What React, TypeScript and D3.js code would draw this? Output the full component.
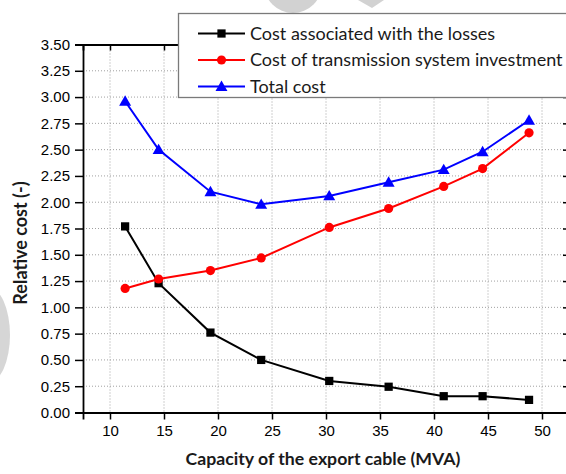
import React, { useEffect, useRef } from "react";
import * as d3 from "d3";

// capacity of the export cable (MVA)
const capacity = [11.4, 14.5, 19.3, 24.0, 30.3, 35.8, 40.9, 44.5, 48.8];
const losses = [1.77, 1.23, 0.76, 0.50, 0.30, 0.245, 0.155, 0.155, 0.12];
const investment = [1.18, 1.27, 1.35, 1.47, 1.76, 1.94, 2.15, 2.32, 2.66];
const total = [2.96, 2.50, 2.10, 1.98, 2.06, 2.19, 2.31, 2.48, 2.78];

const seriesNames = [
  "Cost associated with the losses",
  "Cost of transmission system investment",
  "Total cost",
];
const seriesColors = ["#000000", "#ff0000", "#0000ff"];
const seriesSymbols = [d3.symbolSquare, d3.symbolCircle, d3.symbolTriangle];
const symbolSizes = [68, 66, 62];

const xMajor = [10, 15, 20, 25, 30, 35, 40, 45, 50];
const yMajor = [0, 0.25, 0.5, 0.75, 1, 1.25, 1.5, 1.75, 2, 2.25, 2.5, 2.75, 3, 3.25, 3.5];

function Chart() {
  const ref = useRef(null);

  useEffect(() => {
    const width = 566;
    const height = 474;
    const left = 83;
    const right = 569;
    const top = 44.5;
    const bottom = 412.5;

    const svg = d3.select(ref.current);
    svg.selectAll("*").remove();

    const x = d3.scaleLinear().domain([7.5, 52.5]).range([left, right]);
    const y = d3.scaleLinear().domain([0, 3.5]).range([bottom, top]);

    svg.append("rect").attr("width", width).attr("height", height).attr("fill", "#fff");

    // faint watermark remains
    svg.append("circle").attr("cx", 293).attr("cy", -16).attr("r", 29).attr("fill", "#d2d2d2");
    svg.append("path").attr("d", "M358,0 L384,0 L372,8 Z").attr("fill", "#d2d2d2");
    svg.append("ellipse").attr("cx", -12).attr("cy", 335).attr("rx", 22).attr("ry", 48).attr("fill", "#d6d6d6");

    // grid
    const grid = svg.append("g").attr("stroke", "#a0a0a0").attr("stroke-width", 1).attr("stroke-dasharray", "1,2");
    grid.selectAll(".gx").data(xMajor).join("line")
      .attr("x1", d => x(d)).attr("x2", d => x(d))
      .attr("y1", top).attr("y2", bottom);
    grid.selectAll(".gy").data(yMajor.filter(v => v > 0 && v < 3.5)).join("line")
      .attr("x1", left).attr("x2", right)
      .attr("y1", d => y(d)).attr("y2", d => y(d));

    const font = "'Liberation Sans', Arial, sans-serif";

    // bottom axis (outward ticks)
    const xAxis = svg.append("g").attr("transform", `translate(0,${bottom})`)
      .call(d3.axisBottom(x).tickValues(d3.range(7.5, 52.6, 2.5)).tickSize(4).tickFormat(() => ""));
    xAxis.call(d3.axisBottom(x).tickValues(xMajor).tickSize(7).tickPadding(6).tickFormat(d3.format("d")));
    xAxis.selectAll("text").attr("font-family", font).attr("font-size", 15).attr("fill", "#000");

    // left axis (outward ticks)
    const yAxis = svg.append("g").attr("transform", `translate(${left},0)`)
      .call(d3.axisLeft(y).tickValues(d3.range(0, 3.51, 0.125)).tickSize(4).tickFormat(() => ""));
    yAxis.call(d3.axisLeft(y).tickValues(yMajor).tickSize(8).tickPadding(5).tickFormat(d3.format(".2f")));
    yAxis.selectAll("text").attr("font-family", font).attr("font-size", 15).attr("fill", "#000");

    // top and right axes (inward ticks)
    svg.append("g").attr("transform", `translate(0,${top})`)
      .call(d3.axisBottom(x).tickValues(d3.range(7.5, 52.6, 2.5)).tickSize(3).tickFormat(() => ""))
      .call(d3.axisBottom(x).tickValues(xMajor).tickSize(6).tickFormat(() => ""));
    svg.append("g").attr("transform", `translate(${right},0)`)
      .call(d3.axisLeft(y).tickValues(d3.range(0, 3.51, 0.125)).tickSize(3).tickFormat(() => ""))
      .call(d3.axisLeft(y).tickValues(yMajor).tickSize(6).tickFormat(() => ""));

    svg.selectAll(".domain").attr("stroke", "#000").attr("stroke-width", 1.8);
    svg.selectAll(".tick line").attr("stroke", "#000").attr("stroke-width", 1.5);

    // series
    const all = [losses, investment, total];
    all.forEach((vals, i) => {
      const pts = capacity.map((c, j) => [c, vals[j]]);
      const line = d3.line().x(d => x(d[0])).y(d => y(d[1]));
      svg.append("path").attr("d", line(pts)).attr("fill", "none")
        .attr("stroke", seriesColors[i]).attr("stroke-width", 2);
      svg.append("g").selectAll("path").data(pts).join("path")
        .attr("transform", d => `translate(${x(d[0])},${y(d[1]) + (i === 2 ? 1 : 0)})`)
        .attr("d", d3.symbol().type(seriesSymbols[i]).size(symbolSizes[i])())
        .attr("fill", seriesColors[i]);
    });

    // legend
    const lg = svg.append("g");
    lg.append("rect").attr("x", 178.5).attr("y", 13.5).attr("width", 400).attr("height", 84)
      .attr("fill", "#fff").attr("stroke", "#7a7a7a").attr("stroke-width", 1.3);
    seriesNames.forEach((name, i) => {
      const cy = 33.5 + i * 26.5;
      lg.append("line").attr("x1", 198).attr("x2", 245).attr("y1", cy).attr("y2", cy)
        .attr("stroke", seriesColors[i]).attr("stroke-width", 2);
      lg.append("path").attr("transform", `translate(221.5,${cy + (i === 2 ? 1 : 0)})`)
        .attr("d", d3.symbol().type(seriesSymbols[i]).size(symbolSizes[i])())
        .attr("fill", seriesColors[i]);
      lg.append("text").attr("x", 250).attr("y", cy).attr("dy", "0.35em")
        .attr("font-family", "Lato, 'Open Sans', sans-serif").attr("font-size", 18)
        .attr("fill", "#1a1a1a").text(name);
    });

    // axis titles
    svg.append("text").attr("x", 323).attr("y", 465).attr("text-anchor", "middle")
      .attr("font-family", "Lato, 'Open Sans', sans-serif").attr("font-weight", "bold")
      .attr("font-size", 17.7).attr("fill", "#1a1a1a").text("Capacity of the export cable (MVA)");
    svg.append("text").attr("transform", "translate(21,243) rotate(-90)")
      .attr("text-anchor", "middle").attr("dy", "0.35em")
      .attr("font-family", "Lato, 'Open Sans', sans-serif").attr("font-weight", "bold")
      .attr("font-size", 18).attr("fill", "#1a1a1a").text("Relative cost (-)");
  }, []);

  return (
    <svg ref={ref} width={566} height={474}
      style={{ position: "absolute", left: 0, top: 0, display: "block" }} />
  );
}

export default function App() {
  return <Chart />;
}
